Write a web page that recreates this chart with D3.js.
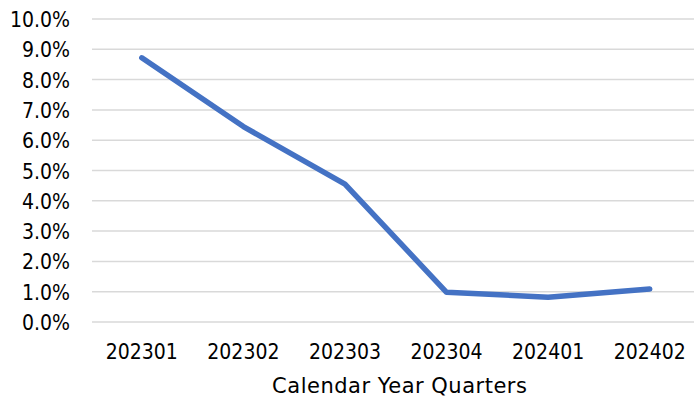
<!DOCTYPE html>
<html>
<head>
<meta charset="utf-8">
<script src="https://cdn.jsdelivr.net/npm/d3@7"></script>
<style>
  html, body { margin: 0; padding: 0; background: #fff; }
  svg { display: block; }
  text { font-family: "DejaVu Sans Condensed", "DejaVu Sans", sans-serif; fill: #000; }
</style>
</head>
<body>
<svg id="chart" width="694" height="401"></svg>
<script>
// Quarterly rate by calendar year quarter
const quarters = ["202301", "202302", "202303", "202304", "202401", "202402"];
const rates = [0.0872, 0.0645, 0.0455, 0.0098, 0.0082, 0.0109];
const yTicks = [0, 0.01, 0.02, 0.03, 0.04, 0.05, 0.06, 0.07, 0.08, 0.09, 0.10];
const xTitle = "Calendar Year Quarters";

const svg = d3.select("#chart");
const plotLeft = 91, plotRight = 700.5, plotTop = 19, plotBottom = 322;

const x = d3.scaleBand().domain(quarters).range([plotLeft, plotRight]);
const y = d3.scaleLinear().domain([0, 0.10]).range([plotBottom, plotTop]);

// horizontal gridlines
svg.append("g")
  .selectAll("line")
  .data(yTicks)
  .join("line")
  .attr("x1", plotLeft + 1)
  .attr("x2", 694)
  .attr("y1", d => y(d))
  .attr("y2", d => y(d))
  .attr("stroke", "#d9d9d9")
  .attr("stroke-width", 1.5);

// y axis labels
const yAxis = d3.axisLeft(y).tickValues(yTicks).tickFormat(d3.format(".1%")).tickSize(0).tickPadding(0);
const gy = svg.append("g").attr("transform", `translate(70,0)`).call(yAxis);
gy.select(".domain").remove();
gy.selectAll("text").style("font-size", "21px").attr("font-family", null).attr("dy", "0.36em");

// x axis labels
const xAxis = d3.axisBottom(x).tickSize(0).tickPadding(0);
const gx = svg.append("g").attr("transform", `translate(0,${plotBottom})`).call(xAxis);
gx.select(".domain").remove();
gx.selectAll("text").style("font-size", "21px").attr("font-family", null)
  .attr("dy", null).attr("y", 37);

// axis title
svg.append("text")
  .attr("x", (plotLeft + plotRight) / 2 + 4)
  .attr("y", 393)
  .attr("text-anchor", "middle")
  .style("font-family", "'DejaVu Sans', sans-serif")
  .style("font-size", "21px")
  .style("letter-spacing", "0.5px")
  .text(xTitle);

// series line
const line = d3.line()
  .x((d, i) => x(quarters[i]) + x.bandwidth() / 2)
  .y(d => y(d));

svg.append("path")
  .datum(rates)
  .attr("d", line)
  .attr("fill", "none")
  .attr("stroke", "#4472c4")
  .attr("stroke-width", 5.5)
  .attr("stroke-linejoin", "round")
  .attr("stroke-linecap", "round");
</script>
</body>
</html>
